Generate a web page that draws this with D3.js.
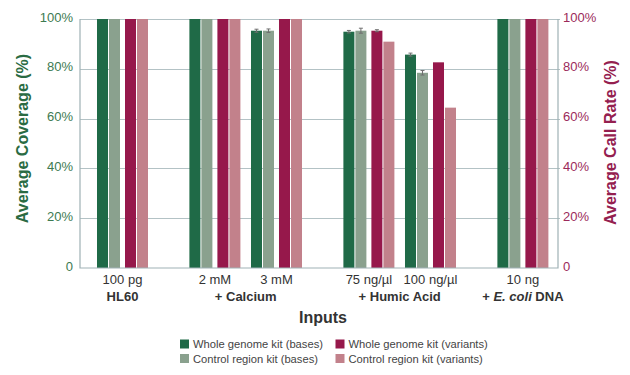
<!DOCTYPE html>
<html>
<head>
<meta charset="utf-8">
<script src="https://cdn.jsdelivr.net/npm/d3@7"></script>
<style>
  body { margin: 0; background: #fff; }
  svg { display: block; font-family: "Liberation Sans", Arial, Helvetica, sans-serif; }
</style>
</head>
<body>
<svg id="chart" width="630" height="375"></svg>
<script>
/* Data */
const samples = ["100 pg", "2 mM", "3 mM", "75 ng/µl", "100 ng/µl", "10 ng"]
const sampleGroup = [0, 1, 1, 2, 2, 3]
const groups = [
  [["HL60", false]],
  [["+ Calcium", false]],
  [["+ Humic Acid", false]],
  [["+ ", false], ["E. coli", true], [" DNA", false]]
]
const seriesNames = [
  "Whole genome kit (bases)",
  "Control region kit (bases)",
  "Whole genome kit (variants)",
  "Control region kit (variants)"
]
const wgBases = [100, 100, 95.3, 94.9, 85.7, 100]
const crBases = [100, 100, 95.3, 95.3, 78.4, 100]
const wgVariants = [100, 100, 100, 95.3, 82.6, 100]
const crVariants = [100, 100, 100, 90.9, 64.4, 100]
const wgBasesErr = [0, 0, 0.4, 0.3, 0.4, 0]
const crBasesErr = [0, 0, 0.5, 0.8, 0.7, 0]
const wgVariantsErr = [0, 0, 0, 0.2, 0, 0]
const crVariantsErr = [0, 0, 0, 0, 0, 0]
const yTicks = [0, 20, 40, 60, 80, 100]

const seriesValues = [wgBases, crBases, wgVariants, crVariants]
const seriesErrors = [wgBasesErr, crBasesErr, wgVariantsErr, crVariantsErr]
const colors = ["#1f6a47", "#8aa18e", "#96184b", "#c2818b"]

/* Chart dimensions etc. */
const width = 630
const height = 375
const marginTop = 19
const marginRight = 72
const marginBottom = 107
const marginLeft = 80
const barW = 11
const barGap = 1
const pairGap = 5
const gridColor = "#b3c2c5"

const svg = d3.select("#chart")

/* slot position: one unit per sample, half a unit extra between groups */
const slot = samples.map((s, i) => i + 0.5 * sampleGroup[i])
const x = d3.scaleLinear([-0.69, 7.07], [marginLeft, width - marginRight])
const y = d3.scaleLinear([0, 100], [height - marginBottom, marginTop])

function barOffset(k) {
  const pair = Math.floor(k / 2), j = k % 2
  const start = pair === 0 ? -pairGap / 2 - 2 * barW - barGap : pairGap / 2
  return start + j * (barW + barGap)
}

/* grid lines */
svg.append("g")
.selectAll("line")
.data(yTicks.filter(d => d > 0))
.join("line")
.attr("x1", marginLeft)
.attr("x2", width - marginRight + 2)
.attr("y1", d => Math.round(y(d)) + 0.5)
.attr("y2", d => Math.round(y(d)) + 0.5)
.attr("stroke", gridColor)
.attr("stroke-width", 1)

/* bars */
const bars = []
seriesValues.forEach((vals, k) => vals.forEach((v, i) => bars.push({ k, i, v, e: seriesErrors[k][i] })))

svg.append("g")
.selectAll("rect")
.data(bars)
.join("rect")
.attr("x", d => x(slot[d.i]) + barOffset(d.k))
.attr("width", barW)
.attr("y", d => y(d.v))
.attr("height", d => y(0) - y(d.v))
.attr("fill", d => colors[d.k])

/* error bars */
const errs = svg.append("g")
.attr("stroke", "#6f6f6f")
.attr("stroke-width", 1)
.selectAll("g")
.data(bars.filter(d => d.e > 0))
.join("g")
.attr("transform", d => `translate(${x(slot[d.i]) + barOffset(d.k) + barW / 2},0)`)

errs.append("line")
.attr("y1", d => y(d.v + d.e) - 0.5)
.attr("y2", d => y(d.v - d.e) + 0.5)
errs.append("line")
.attr("x1", -2).attr("x2", 2)
.attr("y1", d => y(d.v + d.e) - 0.5)
.attr("y2", d => y(d.v + d.e) - 0.5)
errs.append("line")
.attr("x1", -2).attr("x2", 2)
.attr("y1", d => y(d.v - d.e) + 0.5)
.attr("y2", d => y(d.v - d.e) + 0.5)

/* axis frame */
svg.append("path")
.attr("fill", "none")
.attr("stroke", "#9fb1b5")
.attr("stroke-width", 1.2)
.attr("d", `M${marginLeft},${marginTop}V${y(0)}H${width - marginRight}V${marginTop}`)

/* y axis ticks, left and right */
svg.append("g")
.attr("transform", `translate(${marginLeft - 7},0)`)
.selectAll("text")
.data(yTicks)
.join("text")
.attr("y", d => y(d) - 2)
.attr("dy", "0.35em")
.attr("text-anchor", "end")
.attr("fill", "#3d7a51")
.attr("font-size", 13)
.text(d => d === 0 ? "0" : d + "%")

svg.append("g")
.attr("transform", `translate(${width - marginRight + 5},0)`)
.selectAll("text")
.data(yTicks)
.join("text")
.attr("y", d => y(d) - 2)
.attr("dy", "0.35em")
.attr("text-anchor", "start")
.attr("fill", "#9b2a5a")
.attr("font-size", 13)
.text(d => d === 0 ? "0" : d + "%")

/* axis titles */
svg.append("text")
.attr("transform", `translate(28,${(marginTop + y(0)) / 2 - 5}) rotate(-90)`)
.attr("text-anchor", "middle")
.attr("fill", "#2a6b43")
.attr("font-size", 16)
.attr("font-weight", "bold")
.text("Average Coverage (%)")

svg.append("text")
.attr("transform", `translate(616,${(marginTop + y(0)) / 2 - 1}) rotate(-90)`)
.attr("text-anchor", "middle")
.attr("fill", "#94204f")
.attr("font-size", 16)
.attr("font-weight", "bold")
.text("Average Call Rate (%)")

/* x labels: samples, then group names */
svg.append("g")
.selectAll("text")
.data(samples)
.join("text")
.attr("x", (d, i) => x(slot[i]))
.attr("y", y(0) + 16)
.attr("text-anchor", "middle")
.attr("fill", "#333")
.attr("font-size", 13)
.text(d => d)

const groupCenters = groups.map((g, gi) => d3.mean(slot.filter((s, i) => sampleGroup[i] === gi).map(x)))

svg.append("g")
.selectAll("text")
.data(groups)
.join("text")
.attr("x", (d, gi) => groupCenters[gi])
.attr("y", y(0) + 33)
.attr("text-anchor", "middle")
.attr("fill", "#333")
.attr("font-size", 13)
.attr("font-weight", "bold")
.selectAll("tspan")
.data(d => d)
.join("tspan")
.attr("font-style", d => d[1] ? "italic" : null)
.text(d => d[0])

svg.append("text")
.attr("x", (marginLeft + width - marginRight) / 2 + 4)
.attr("y", 323)
.attr("text-anchor", "middle")
.attr("fill", "#333")
.attr("font-size", 16)
.attr("font-weight", "bold")
.text("Inputs")

/* legend, two columns: bases on the left, variants on the right */
const legend = svg.append("g")
.selectAll("g")
.data(seriesNames)
.join("g")
.attr("transform", (d, k) => `translate(${k < 2 ? 180 : 335.5},${339.5 + (k % 2) * 14.5})`)

legend.append("rect")
.attr("width", 9)
.attr("height", 9)
.attr("fill", (d, k) => colors[k])

legend.append("text")
.attr("x", 13)
.attr("y", 8.5)
.attr("fill", "#444")
.attr("font-size", 11.2)
.text(d => d)
</script>
</body>
</html>
